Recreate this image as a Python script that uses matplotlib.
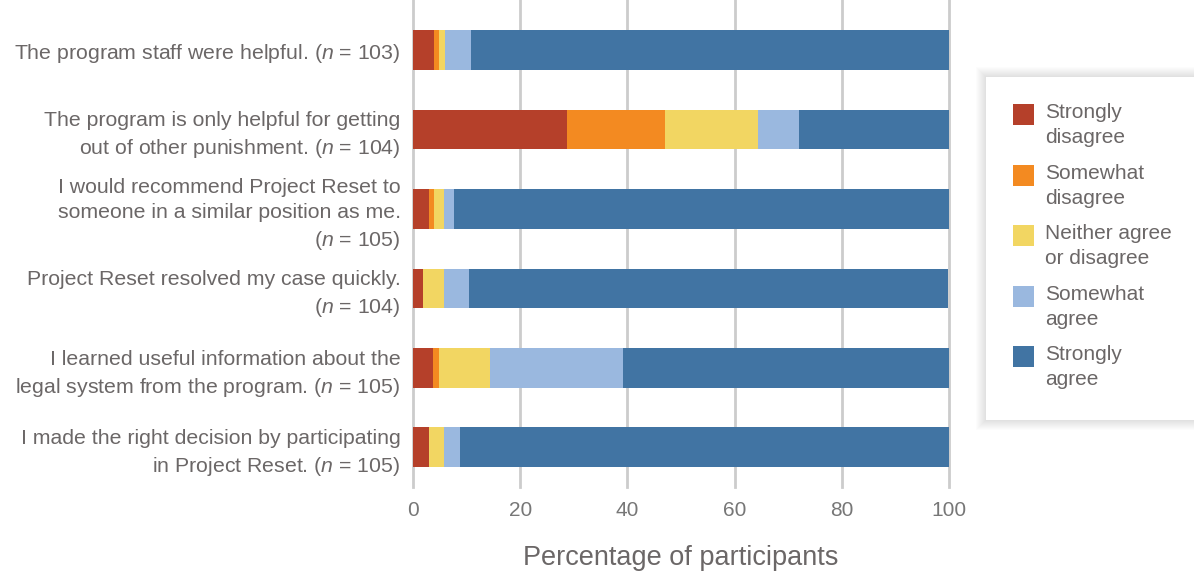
import numpy as np
import matplotlib.pyplot as plt
from matplotlib.patches import Rectangle

plt.rcParams['font.family'] = 'Liberation Sans'
plt.rcParams['mathtext.fontset'] = 'custom'
plt.rcParams['mathtext.rm'] = 'Liberation Sans'
plt.rcParams['mathtext.it'] = 'Liberation Sans:italic'

# -------------- data (percent of participants) ----------------------------
statements = [
    "The program staff were helpful. ($n$ = 103)",
    "The program is only helpful for getting\nout of other punishment. ($n$ = 104)",
    "I would recommend Project Reset to\nsomeone in a similar position as me.\n($n$ = 105)",
    "Project Reset resolved my case quickly.\n($n$ = 104)",
    "I learned useful information about the\nlegal system from the program. ($n$ = 105)",
    "I made the right decision by participating\nin Project Reset. ($n$ = 105)",
]
strongly_disagree = [3.9, 28.8, 2.9, 1.9, 3.8, 2.9]
somewhat_disagree = [1.0, 18.3, 1.0, 0.0, 1.0, 0.0]
neither = [1.0, 17.3, 1.9, 3.8, 9.5, 2.9]
somewhat_agree = [4.9, 7.7, 1.9, 4.8, 24.8, 2.9]
strongly_agree = [89.3, 27.9, 92.4, 89.4, 61.0, 91.4]

series_names = ["Strongly\ndisagree", "Somewhat\ndisagree", "Neither agree\nor disagree",
                "Somewhat\nagree", "Strongly\nagree"]
colors = ["#B5402A", "#F38A21", "#F2D662", "#9AB8DF", "#4174A3"]
text_c = "#6B6767"

series = [strongly_disagree, somewhat_disagree, neither, somewhat_agree, strongly_agree]

fig = plt.figure(figsize=(11.94, 5.74), dpi=100)
ax = fig.add_axes([413/1194, 1 - 487/574, (949 - 413)/1194, 487/574])

y = np.arange(len(statements))
left = np.zeros(len(statements))
for vals, c in zip(series, colors):
    ax.barh(y, vals, left=left, height=0.5, color=c, zorder=3)
    left += np.array(vals)

ax.set_xlim(0, 100)
ax.set_ylim(5.5, -0.63)
ax.set_xticks([0, 20, 40, 60, 80, 100])
ax.set_yticks(y, statements, fontsize=15.3, color=text_c, linespacing=1.4)
ax.tick_params(axis='both', length=0)
ax.tick_params(axis='y', pad=9)
ax.tick_params(axis='x', pad=10, labelsize=15, labelcolor="#777777")
for s in ax.spines.values():
    s.set_visible(False)
ax.xaxis.grid(True, color="#CCCCCC", lw=2, zorder=0)
for gl in ax.get_xgridlines():
    gl.set_clip_on(False)
ax.set_xlabel("Percentage of participants", fontsize=19.5, color=text_c, labelpad=18)

# -------------- legend box with soft shadow ------------------------------
W, H = 1194, 574
x0, y0, x1, y1 = 986, 77, 1200, 420
for k in range(10, 0, -1):
    fig.patches.append(Rectangle(((x0 - k) / W, 1 - (y1 + k) / H), (x1 - x0 + 2*k) / W,
                                 (y1 - y0 + 2*k) / H, transform=fig.transFigure,
                                 facecolor="black", alpha=0.01, edgecolor="none"))
fig.patches.append(Rectangle((x0 / W, 1 - y1 / H), (x1 - x0) / W, (y1 - y0) / H,
                             transform=fig.transFigure, facecolor="white",
                             edgecolor="none"))
for i, (name, c) in enumerate(zip(series_names, colors)):
    top = 104 + i * 60.6
    fig.patches.append(Rectangle((1013 / W, 1 - (top + 21) / H), 21 / W, 21 / H,
                                 transform=fig.transFigure, facecolor=c, edgecolor="none"))
    fig.text(1045 / W, 1 - (top - 1) / H, name, fontsize=15, color=text_c,
             va="top", ha="left", linespacing=1.4)

fig.savefig("out.png", dpi=100)
